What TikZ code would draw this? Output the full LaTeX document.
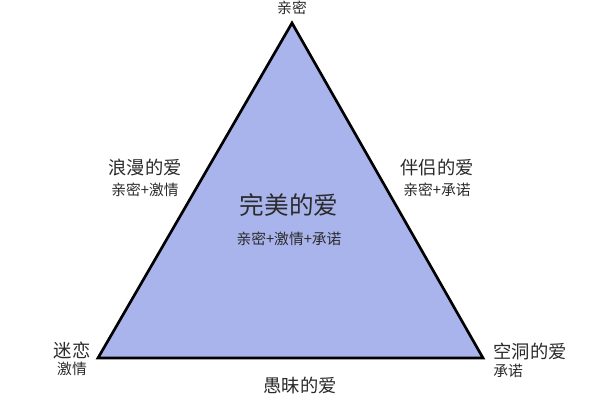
\documentclass[tikz,border=0pt]{standalone}
\usepackage{fontspec}
\setmainfont{Noto Sans CJK SC}
\usepackage{xcolor}
\usetikzlibrary{positioning}
\definecolor{trifill}{HTML}{A9B4EC}
\definecolor{labeltext}{HTML}{2B2B2B}
\tikzset{
  triline/.style={draw=black, line width=1.9pt, line join=miter, fill=trifill},
  lovename/.style={text=labeltext, inner sep=1pt, font=\fontsize{13}{15}\selectfont},
  lovemix/.style={text=labeltext, inner sep=1pt, font=\fontsize{10.5}{12}\selectfont},
  perfectname/.style={text=labeltext, inner sep=1pt, font=\fontsize{17.5}{19}\selectfont}
}
\begin{document}
\begin{tikzpicture}[x=0.025cm, y=-0.025cm]
    \useasboundingbox[fill=white] (0,0) rectangle (600,400);
    % triangle corners
    \coordinate (apex) at (292,23);
    \coordinate (leftcorner) at (98,358);
    \coordinate (rightcorner) at (483,358);
    \draw[triline] (apex) -- (leftcorner) -- (rightcorner) -- cycle;
    % labels
    \node[lovemix] (intimacy) at (292,8) {亲密};
    \node[lovename] (romantic) at (145,168) {浪漫的爱};
    \node[lovemix, below=1.9pt of romantic] (romanticmix) {亲密+激情};
    \node[lovename] (companion) at (437,168) {伴侣的爱};
    \node[lovemix, below=1.9pt of companion] (companionmix) {亲密+承诺};
    \node[perfectname] (perfect) at (289,205) {完美的爱};
    \node[lovemix, below=8.5pt of perfect] (perfectmix) {亲密+激情+承诺};
    \node[lovename] (infatuation) at (72,350) {迷恋};
    \node[lovemix, below=0.4pt of infatuation] (passion) {激情};
    \node[lovename] (empty) at (530,352) {空洞的爱};
    \node[lovemix, below=0.4pt of empty.south west, anchor=north west] (commitment) {承诺};
    \node[lovename] (fatuous) at (300,385) {愚昧的爱};
  \end{tikzpicture}
\end{document}
